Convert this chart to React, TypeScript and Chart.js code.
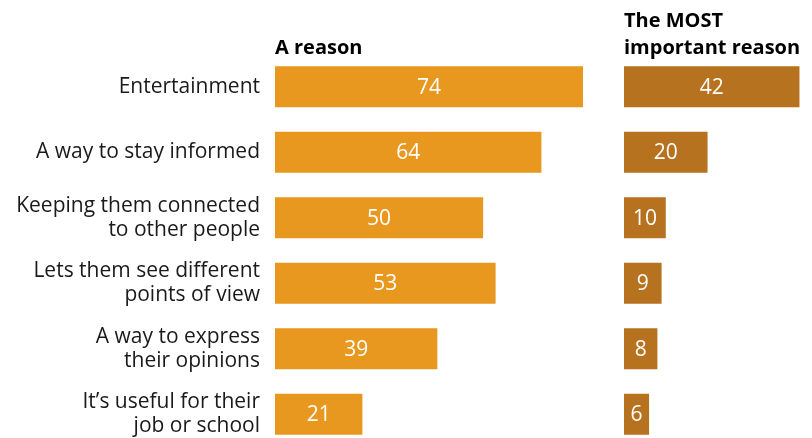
import React, { useEffect, useRef } from "react";
import { Chart, registerables } from "chart.js";

Chart.register(...registerables);

const categories: string[][] = [
  ["Entertainment"],
  ["A way to stay informed"],
  ["Keeping them connected", "to other people"],
  ["Lets them see different", "points of view"],
  ["A way to express", "their opinions"],
  ["It\u2019s useful for their", "job or school"],
];
const aReason = [74, 64, 50, 53, 39, 21];
const mostImportant = [42, 20, 10, 9, 8, 6];
const leftHeader = ["A reason"];
const rightHeader = ["The MOST", "important reason"];

const FONT = "'Open Sans', 'Liberation Sans', Arial, sans-serif";
const LEFT_COLOR = "#E8971F";
const RIGHT_COLOR = "#B7721F";

function makePlugin(header: string[]) {
  return {
    id: "labelsAndHeader",
    afterDatasetsDraw(chart: any) {
      const ctx = chart.ctx;
      const area = chart.chartArea;
      ctx.save();
      const meta = chart.getDatasetMeta(0);
      const data = chart.data.datasets[0].data as number[];
      ctx.fillStyle = "#ffffff";
      ctx.font = `21px ${FONT}`;
      ctx.textAlign = "center";
      ctx.textBaseline = "middle";
      meta.data.forEach((bar: any, i: number) => {
        const cx = (bar.base + bar.x) / 2;
        ctx.fillText(String(data[i]), cx, bar.y + 1);
      });
      ctx.fillStyle = "#000000";
      ctx.font = `bold 20px ${FONT}`;
      ctx.textAlign = "left";
      ctx.textBaseline = "alphabetic";
      const lh = 27;
      header.forEach((line, i) => {
        const y = area.top - (header.length - 1 - i) * lh;
        ctx.fillText(line, area.left, y);
      });
      ctx.restore();
    },
  };
}

function BarPanel(props: {
  data: number[];
  color: string;
  header: string[];
  showLabels: boolean;
  max: number;
  width: number;
  height: number;
  left: number;
  padLeft: number;
}) {
  const ref = useRef<HTMLCanvasElement | null>(null);
  useEffect(() => {
    if (!ref.current) return;
    const chart = new Chart(ref.current, {
      type: "bar",
      data: {
        labels: categories,
        datasets: [
          {
            data: props.data,
            backgroundColor: props.color,
            borderWidth: 0,
            categoryPercentage: 1,
            barPercentage: 0.626,
          },
        ],
      },
      options: {
        indexAxis: "y",
        animation: false,
        responsive: false,
        devicePixelRatio: 1,
        layout: { padding: { top: 54, left: props.padLeft, right: 0, bottom: 0 } },
        plugins: {
          legend: { display: false },
          tooltip: { enabled: false },
          title: { display: false },
        },
        scales: {
          x: {
            display: false,
            min: 0,
            max: props.max,
            grid: { display: false },
          },
          y: {
            display: props.showLabels,
            grid: { display: false, drawTicks: false },
            border: { display: false },
            ticks: {
              color: "#1a1a1a",
              padding: 15,
              font: { family: FONT, size: 21, lineHeight: 1.15 },
            },
            afterFit: (scale: any) => {
              scale.paddingTop = 0;
              scale.paddingBottom = 0;
              if (props.showLabels) scale.width = 275;
            },
          },
        },
      },
      plugins: [makePlugin(props.header)],
    } as any);
    return () => chart.destroy();
  }, []);
  return (
    <canvas
      ref={ref}
      width={props.width}
      height={props.height}
      style={{
        position: "absolute",
        left: props.left,
        top: 0,
        width: props.width,
        height: props.height,
      }}
    />
  );
}

export default function App() {
  return (
    <div
      style={{
        position: "absolute",
        left: 0,
        top: 0,
        width: 812,
        height: 438,
        overflow: "hidden",
        background: "#ffffff",
      }}
    >
      <BarPanel
        data={aReason}
        color={LEFT_COLOR}
        header={leftHeader}
        showLabels={true}
        max={80}
        width={608}
        height={447}
        left={0}
        padLeft={0}
      />
      <BarPanel
        data={mostImportant}
        color={RIGHT_COLOR}
        header={rightHeader}
        showLabels={false}
        max={45}
        width={200}
        height={447}
        left={612}
        padLeft={12}
      />
    </div>
  );
}
